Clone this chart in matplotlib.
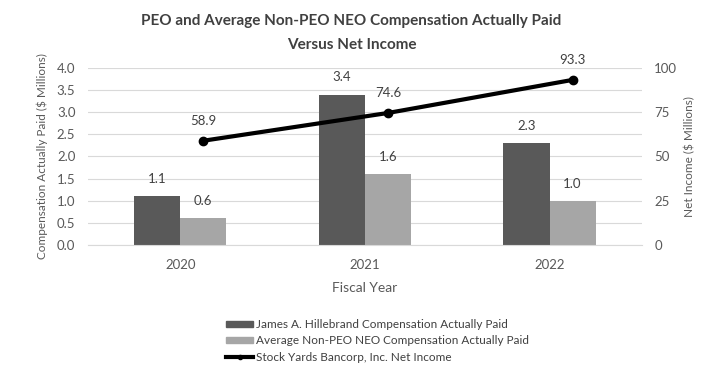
import numpy as np
import matplotlib
matplotlib.use("Agg")
import matplotlib.pyplot as plt
from matplotlib.patches import Patch
from matplotlib.lines import Line2D

plt.rcParams['font.family'] = ['Lato', 'DejaVu Sans']

years = ['2020', '2021', '2022']
peo_cap = [1.1, 3.4, 2.3]
neo_cap = [0.6, 1.6, 1.0]
net_income = [58.9, 74.6, 93.3]

dark = '#595959'
light = '#a6a6a6'
txt = '#595959'

fig = plt.figure(figsize=(7.03, 3.78), dpi=100)
ax = fig.add_axes([0.125, 0.352, 0.788, 0.468])
ax2 = ax.twinx()

x = np.arange(len(years))
w = 0.25
ax.bar(x - w / 2, peo_cap, w, color=dark, zorder=2)
ax.bar(x + w / 2, neo_cap, w, color=light, zorder=2)
for xi, v in zip(x - w / 2, peo_cap):
    ax.annotate(f'{v:.1f}', (xi, v), xytext=(0, 8), textcoords='offset points',
                ha='center', va='bottom', fontsize=9.5, color='#404040')
for xi, v in zip(x + w / 2, neo_cap):
    ax.annotate(f'{v:.1f}', (xi, v), xytext=(0, 8), textcoords='offset points',
                ha='center', va='bottom', fontsize=9.5, color='#404040')

ax2.plot(x + w / 2, net_income, color='black', lw=3, marker='o', ms=6, zorder=3)
for xi, v in zip(x + w / 2, net_income):
    ax2.annotate(f'{v:.1f}', (xi, v), xytext=(0, 10), textcoords='offset points',
                 ha='center', va='bottom', fontsize=9.5, color='#404040')

ax.set_xlim(-0.5, 2.5)
ax.set_ylim(0, 4.0)
ax.set_yticks(np.arange(0, 4.01, 0.5))
ax.set_yticklabels([f'{t:.1f}' for t in np.arange(0, 4.01, 0.5)])
ax2.set_ylim(0, 100)
ax2.set_yticks([0, 25, 50, 75, 100])
ax.yaxis.grid(True, color='#d9d9d9', lw=0.8, zorder=0)
ax.set_axisbelow(True)
ax.set_xticks(x)
ax.set_xticklabels(years)

for a in (ax, ax2):
    for s in ['top', 'left', 'right']:
        a.spines[s].set_visible(False)
    a.tick_params(axis='both', length=0, labelsize=9.5, labelcolor=txt, pad=9)
ax2.spines['bottom'].set_visible(False)
ax.spines['bottom'].set_color('#d9d9d9')
ax.tick_params(axis='x', pad=10)

ax.set_ylabel('Compensation Actually Paid ($ Millions)', fontsize=8.5, color=txt, labelpad=6)
ax2.set_ylabel('Net Income ($ Millions)', fontsize=8.5, color=txt, labelpad=5)
ax.set_xlabel('Fiscal Year', fontsize=10, color=txt, labelpad=8)

fig.text(0.5, 0.945, 'PEO and Average Non-PEO NEO Compensation Actually Paid',
         ha='center', va='center', fontsize=11, fontweight='bold', color='#404040')
fig.text(0.5, 0.882, 'Versus Net Income',
         ha='center', va='center', fontsize=11, fontweight='bold', color='#404040')

handles = [
    Patch(color=dark),
    Patch(color=light),
    Line2D([], [], color='black', lw=3, marker='o', ms=3),
]
labels = [
    'James A. Hillebrand Compensation Actually Paid',
    'Average Non-PEO NEO Compensation Actually Paid',
    'Stock Yards Bancorp, Inc. Net Income',
]
fig.legend(handles, labels, loc='upper left', bbox_to_anchor=(0.313, 0.172),
           frameon=False, fontsize=8.5, labelcolor='#404040', handlelength=2.3,
           handleheight=0.45, handletextpad=0.25, labelspacing=0.45, borderpad=0)

fig.savefig('out.png', dpi=100)
